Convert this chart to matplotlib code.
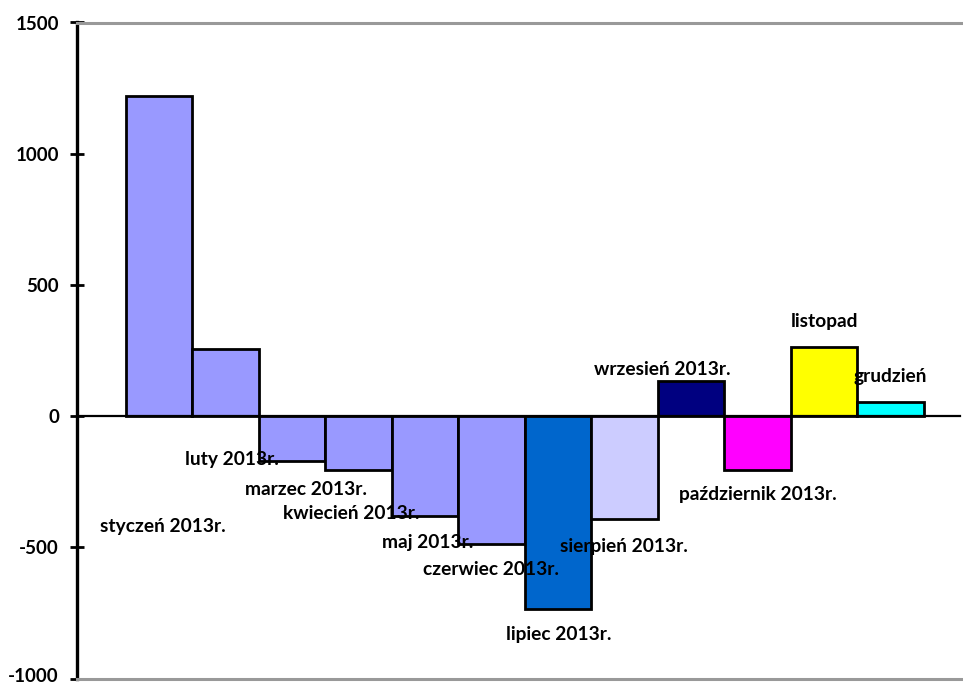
import matplotlib
matplotlib.use("Agg")
import matplotlib.pyplot as plt
import matplotlib.transforms as mtransforms

# ---- data ----
categories = ["styczeń 2013r.", "luty 2013r.", "marzec 2013r.", "kwiecień 2013r.",
              "maj 2013r.", "czerwiec 2013r.", "lipiec 2013r.", "sierpień 2013r.",
              "wrzesień 2013r.", "październik 2013r.", "listopad", "grudzień"]
values = [1218, 257, -170, -204, -379, -486, -734, -394, 133, -204, 264, 54]
yticks = [-1000, -500, 0, 500, 1000, 1500]

# ---- style / layout ----
colors = ["#9999FF"] * 6 + ["#0066CC", "#CCCCFF", "#000080", "#FF00FF", "#FFFF00", "#00FFFF"]
label_pos = [(0.056, -421), (1.094, -166), (2.207, -278), (2.883, -372),
             (4.041, -482), (4.996, -585), (6.003, -833), (6.989, -497),
             (7.560, 177), (9.0, -299), (10.011, 361), (11.0, 150)]

plt.rcParams['font.family'] = ['Lato', 'DejaVu Sans']
plt.rcParams['font.weight'] = 'bold'

fig = plt.figure(figsize=(9.63, 6.86), dpi=100)
ax = fig.add_axes([77 / 963, 7.5 / 686, 1 - 77 / 963, (678.5 - 22.5) / 686])

x = list(range(len(values)))
ax.bar(x, values, width=1.0, color=colors, edgecolor="black", linewidth=2.0, zorder=2)
ax.axhline(0, color="black", lw=1.6, xmax=0.997, zorder=3)

for name, (lx, ly) in zip(categories, label_pos):
    ax.text(lx, ly, name, ha="center", va="center", fontsize=13.8,
            fontweight="bold", color="black", zorder=5)

ax.set_xlim(-1.237, 12.09)
ax.set_ylim(-1000, 1500)
ax.set_yticks(yticks)
ax.set_yticklabels([str(t) for t in yticks], fontsize=13.5, fontweight="bold")
ax.set_xticks([])
ax.tick_params(axis="y", direction="inout", length=10, width=2, pad=8)

# keep the lowest tick label inside the canvas
lowest = ax.get_yticklabels()[0]
lowest.set_transform(lowest.get_transform() +
                     mtransforms.ScaledTranslation(0, 3 / 100, fig.dpi_scale_trans))

ax.spines["right"].set_visible(False)
ax.spines["left"].set_linewidth(2.4)
ax.spines["left"].set_color("black")
for s in ["top", "bottom"]:
    ax.spines[s].set_color("#999999")
    ax.spines[s].set_linewidth(2.2)

fig.savefig("out.png", dpi=100)
